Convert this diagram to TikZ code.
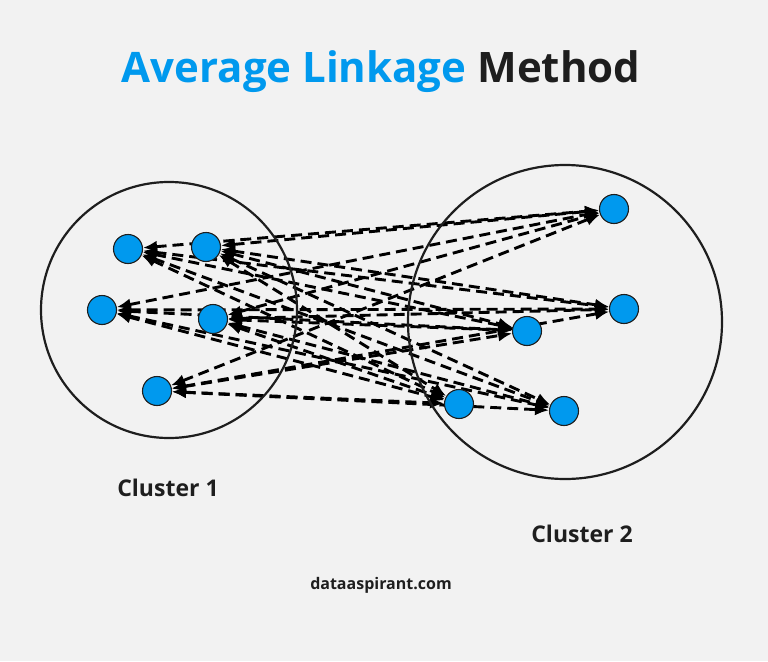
\documentclass[tikz,border=0pt]{standalone}
\usepackage{fontspec}
\setmainfont{Open Sans}
\usetikzlibrary{arrows.meta,backgrounds}
\definecolor{pointblue}{HTML}{0099EE}
\definecolor{bggray}{HTML}{F2F2F2}
\definecolor{inkdark}{HTML}{1E1E1E}
\begin{document}
\begin{tikzpicture}[x=1pt, y=-1pt,
  pt/.style={draw=inkdark, fill=pointblue, circle, minimum size=29pt, inner sep=0pt, line width=1.1pt},
  link/.style={dash pattern=on 11pt off 6pt, line width=2.9pt, {Latex[length=14pt,width=12pt]}-{Latex[length=14pt,width=12pt]}},
  ring/.style={draw=inkdark, circle, line width=2.2pt, inner sep=0pt}]
  \useasboundingbox (0,0) rectangle (768,661);
  \node(title)[anchor=base, inkdark, font=\bfseries\fontsize{42}{48}\selectfont] at(381,82)
    {\textcolor{pointblue}{Average Linkage} Method};
  \node(R1)[ring, minimum size=256pt] at(169,310) {};
  \node(R2)[ring, minimum size=314pt] at(565,322) {};
  \foreach \x/\y/\n in {128/249/1,206/247/2,102/310/3,213/319/4,157/391/5}{%
    \node(P\n)[pt] at(\x,\y) {};
  }
  \foreach \x/\y/\n in {614/209/1,624/309/2,527/331/3,459/404/4,564/411/5}{%
    \node(Q\n)[pt] at(\x,\y) {};
  }
  % every point of cluster 1 linked to every point of cluster 2
  \begin{scope}[on background layer]
    \fill[bggray] (0,0) rectangle (768,661);
    \foreach \a in {1,2,3,4,5}{%
      \foreach \b in {1,2,3,4,5}{%
        \draw[link](P\a)--(Q\b);
      }
    }
  \end{scope}
  \node(L1)[inkdark, inner sep=0pt, font=\bfseries\fontsize{23}{26}\selectfont] at(168,488) {Cluster 1};
  \node(L2)[inkdark, inner sep=0pt, font=\bfseries\fontsize{23}{26}\selectfont] at(582,534) {Cluster 2};
  \node(site)[inkdark, inner sep=0pt, font=\bfseries\fontsize{16}{18}\selectfont] at(381,585) {dataaspirant.com};
\end{tikzpicture}
\end{document}
